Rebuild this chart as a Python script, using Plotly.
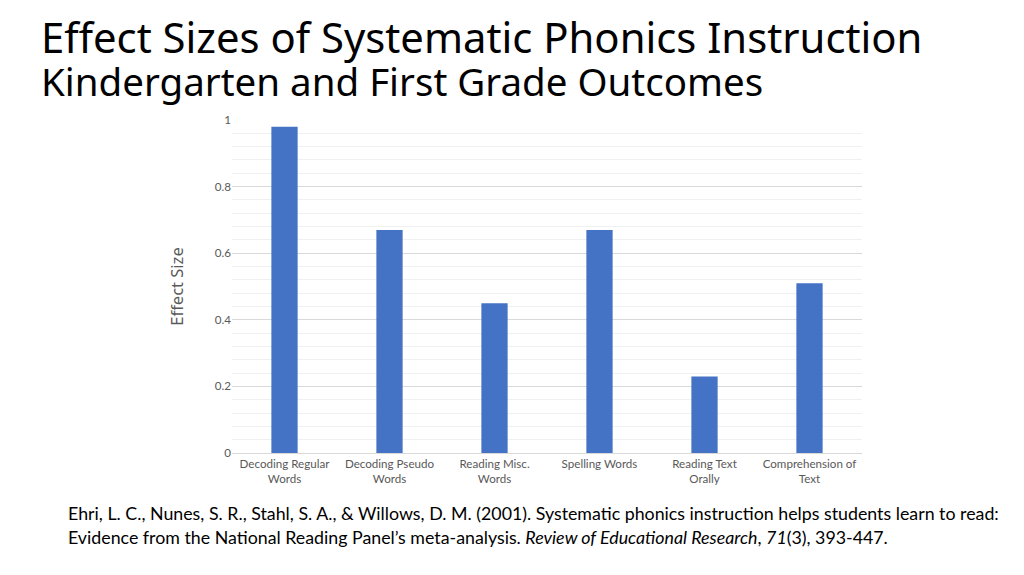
import plotly.graph_objects as go

categories = ["Decoding Regular<br>Words", "Decoding Pseudo<br>Words", "Reading Misc.<br>Words",
              "Spelling Words", "Reading Text<br>Orally", "Comprehension of<br>Text"]
effect_sizes = [0.98, 0.67, 0.45, 0.67, 0.23, 0.51]
y_ticks = [0, 0.2, 0.4, 0.6, 0.8, 1]
y_tick_labels = ["0", "0.2", "0.4", "0.6", "0.8", "1"]

W, H = 1024, 575
OFF = 8  # page offset of the figure
L, T = 232 - OFF, 120 - OFF
R = W - (862 - OFF)
B = H - (453 - OFF)
pw, ph = W - L - R, H - T - B

def px(x):
    return (x - OFF - L) / pw

def py(y):
    return (H - B - (y - OFF)) / ph

fig = go.Figure(go.Bar(x=categories, y=effect_sizes, marker_color="#4472C4",
                       marker_line_width=0, hoverinfo="x+y"))

fig.update_layout(
    width=W, height=H,
    margin=dict(l=L, r=R, t=T, b=B, autoexpand=False),
    plot_bgcolor="white", paper_bgcolor="white",
    bargap=0.75,
    showlegend=False,
    font=dict(family="Lato", color="#595959"),
)
fig.update_xaxes(tickfont=dict(size=11.6, color="#595959", family="Lato"), showline=False,
                 ticks="", showgrid=False, ticklabelstandoff=2)
fig.update_yaxes(range=[0, 1], tickvals=y_ticks, ticktext=y_tick_labels,
                 tickfont=dict(size=11.6, color="#595959", family="Lato"),
                 showgrid=True, gridcolor="#d9d9d9", gridwidth=1, zeroline=True,
                 zerolinecolor="#d9d9d9", zerolinewidth=1, ticks="", ticklen=0,
                 minor=dict(dtick=0.04, showgrid=True, gridcolor="#f0f0f0", gridwidth=1),
                 title=dict(text="Effect Size", font=dict(size=16.5, color="#595959", family="Noto Sans"),
                            standoff=27))

annotations = [
    dict(text="Effect Sizes of Systematic Phonics Instruction", x=px(39), y=py(37),
         font=dict(size=41.8, family="Noto Sans", color="#000000")),
    dict(text="Kindergarten and First Grade Outcomes", x=px(39), y=py(81),
         font=dict(size=38.5, family="Noto Sans", color="#000000")),
    dict(text="Ehri, L. C., Nunes, S. R., Stahl, S. A., &amp; Willows, D. M. (2001). Systematic phonics instruction helps students learn to read:",
         x=px(66), y=py(513), font=dict(size=17.8, family="Lato", color="#000000")),
    dict(text="Evidence from the National Reading Panel’s meta-analysis. <i>Review of Educational Research</i>, <i>71</i>(3), 393-447.",
         x=px(66), y=py(537), font=dict(size=17.8, family="Lato", color="#000000")),
]
for a in annotations:
    fig.add_annotation(xref="paper", yref="paper", xanchor="left", yanchor="middle",
                       showarrow=False, align="left", **a)

fig.write_html("out.html")
